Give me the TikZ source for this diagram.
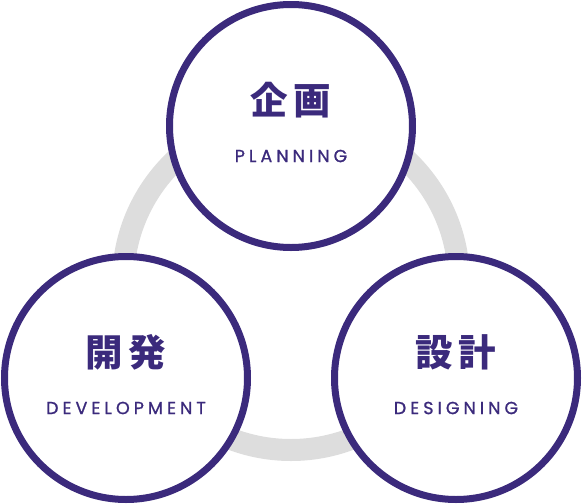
\documentclass[tikz,border=0pt]{standalone}
\usepackage{fontspec}
\newfontfamily\jpfont{Noto Sans CJK JP}[LetterSpace=14]
\newfontfamily\enfont{Poppins}[LetterSpace=23, FakeBold=1]
\definecolor{ink}{HTML}{3B2A7C}
\definecolor{ringgray}{HTML}{DDDDDD}
\tikzset{
  stage/.style={circle, draw=ink, line width=7pt, fill=white, minimum size=243pt, inner sep=0pt},
  jplabel/.style={text=ink, font=\jpfont\bfseries\fontsize{37.5}{38}\selectfont, inner sep=0pt},
  enlabel/.style={text=ink, font=\enfont\fontsize{17.5}{18}\selectfont, inner sep=0pt}
}
\begin{document}
\begin{tikzpicture}[x=1pt,y=-1pt]
\useasboundingbox (0,0) rectangle (582,504);
\draw[ringgray, line width=22pt] (291,282) circle[radius=168];
\node[stage] (plan) at (291,126) {};
\node[stage] (dev) at (126,378) {};
\node[stage] (des) at (456,378) {};
\node[jplabel] (planjp) at ([yshift=26pt]plan.center) {企画};
\node[enlabel] (planen) at ([yshift=-30pt]plan.center) {PLANNING};
\node[jplabel] (devjp) at ([yshift=26pt]dev.center) {開発};
\node[enlabel] (deven) at ([yshift=-30pt]dev.center) {DEVELOPMENT};
\node[jplabel] (desjp) at ([yshift=26pt]des.center) {設計};
\node[enlabel] (desen) at ([yshift=-30pt]des.center) {DESIGNING};
\end{tikzpicture}
\end{document}
